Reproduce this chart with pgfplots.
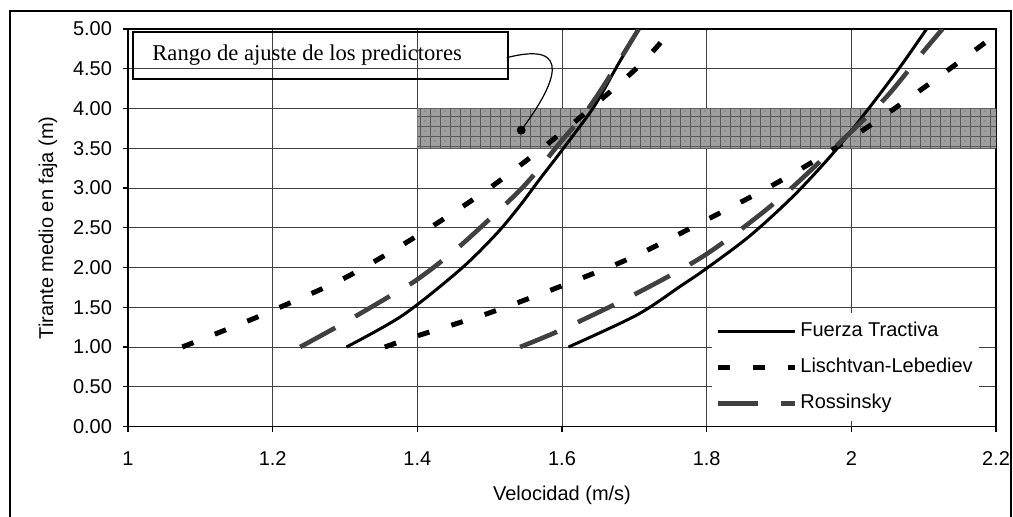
\documentclass[border=0pt]{standalone}
\usepackage{fontspec}
\setmainfont{Liberation Sans}
\newfontfamily\calloutfont{Liberation Serif}
\usepackage{pgfplots}
\pgfplotsset{compat=1.18}
\usetikzlibrary{patterns}

\definecolor{rossgray}{HTML}{404040}

% cell grid seen in the shaded band
\pgfdeclarepatternformonly{cellgrid}{\pgfqpoint{-0.1pt}{-0.1pt}}{\pgfqpoint{5.1pt}{5.1pt}}{\pgfqpoint{5pt}{5pt}}{%
  \pgfsetlinewidth{0.35pt}%
  \pgfpathmoveto{\pgfpointorigin}\pgfpathlineto{\pgfqpoint{5pt}{0pt}}%
  \pgfpathmoveto{\pgfpointorigin}\pgfpathlineto{\pgfqpoint{0pt}{5pt}}%
  \pgfusepath{stroke}%
  \pgfpathcircle{\pgfqpoint{2.5pt}{2.5pt}}{0.35pt}\pgfusepath{fill}}

\newcommand{\lbl}{\fontsize{10}{11}\selectfont}

\begin{document}
\begin{tikzpicture}
\useasboundingbox (0,0) rectangle (506.5pt,258pt);
\begin{axis}[
    at={(64pt,44.75pt)}, anchor=south west,
    scale only axis, width=434pt, height=198.75pt,
    xmin=1, xmax=2.2, ymin=0, ymax=5,
    xtick={1,1.2,1.4,1.6,1.8,2,2.2},
    ytick={0,0.5,1,1.5,2,2.5,3,3.5,4,4.5,5},
    xtick pos=left, ytick pos=left,
    tick align=outside, major tick length=2.5pt,
    tick style={black, line width=0.6pt},
    axis line style={black, line width=0.8pt},
    grid=major,
    major grid style={black!75, line width=0.45pt},
    /pgf/number format/assume math mode=true,
    tick label style={font=\lbl},
    yticklabel style={/pgf/number format/fixed, /pgf/number format/fixed zerofill, /pgf/number format/precision=2, xshift=-2pt},
    xticklabel style={/pgf/number format/fixed, yshift=-6.5pt},
    xlabel={Velocidad (m/s)},
    ylabel={Tirante medio en faja (m)},
    every axis x label/.style={at={(axis description cs:0.5,-0.1723)}, anchor=center, font=\lbl},
    every axis y label/.style={at={(axis description cs:-0.0922,0.5)}, anchor=center, rotate=90, font=\lbl},
    legend style={at={(axis description cs:0.6728,0.2855)}, anchor=north west,
        draw=none, fill=white, font=\lbl, inner xsep=1.75pt, inner ysep=2.75pt,
        row sep=5.5pt,
        nodes={inner sep=1.25pt, text height=7.5pt, text depth=2.5pt}},
    legend cell align=left,
    legend image code/.code={\draw[#1] (0pt,0pt) -- (38.5pt,0pt);},
]
% shaded band: range of fit of the predictors
\addplot[draw=none, fill=black!38, postaction={pattern=cellgrid, pattern color=black!65}, forget plot]
  coordinates {(1.4,3.5) (2.2,3.5) (2.2,4.0) (1.4,4.0) (1.4,3.5)};

% Fuerza Tractiva
\addplot[black, line width=1.5pt, smooth, tension=0.5] coordinates {
  (1.302,1.00) (1.380,1.40) (1.460,1.98) (1.510,2.43) (1.542,2.78) (1.570,3.12)
  (1.602,3.50) (1.644,4.02) (1.676,4.53) (1.706,5.00)};
\addlegendentry{Fuerza Tractiva}
% Lischtvan-Lebediev
\addplot[black, line width=2.5pt, dash pattern=on 6pt off 11.5pt, smooth] coordinates {
  (1.075,1.00) (1.15,1.27) (1.20,1.46) (1.30,1.87) (1.40,2.40)
  (1.50,3.00) (1.60,3.70) (1.70,4.48) (1.745,4.92)};
\addlegendentry{Lischtvan-Lebediev}
% Rossinsky
\addplot[rossgray, line width=2.3pt, dash pattern=on 20pt off 11.5pt, smooth] coordinates {
  (1.238,1.00) (1.30,1.31) (1.362,1.64) (1.40,1.85) (1.45,2.20) (1.50,2.61)
  (1.55,3.05) (1.60,3.60) (1.63,3.92) (1.66,4.32) (1.706,5.00)};
\addlegendentry{Rossinsky}

% second set of curves
\addplot[black, line width=1.5pt, smooth, tension=0.5, forget plot] coordinates {
  (1.609,1.00) (1.703,1.40) (1.763,1.76) (1.800,1.99) (1.860,2.40)
  (1.920,2.90) (1.975,3.44) (2.024,4.00) (2.068,4.53) (2.104,5.00)};
\addplot[black, line width=2.5pt, dash pattern=on 6pt off 11.5pt, smooth, forget plot] coordinates {
  (1.355,1.00) (1.40,1.14) (1.50,1.43) (1.60,1.77) (1.70,2.14)
  (1.80,2.60) (1.90,3.08) (2.00,3.63) (2.10,4.26) (2.20,4.93)};
\addplot[rossgray, line width=2.3pt, dash pattern=on 20pt off 11.5pt, smooth, forget plot] coordinates {
  (1.542,1.00) (1.60,1.22) (1.70,1.66) (1.80,2.17) (1.90,2.86)
  (2.00,3.71) (2.05,4.16) (2.10,4.72) (2.126,5.00)};

% callout dot
\addplot[only marks, mark=*, mark size=2pt, black, forget plot] coordinates {(1.5436,3.728)};
\coordinate (dot) at (axis cs:1.5436,3.728);
\end{axis}
% callout box and leader
\draw[black, line width=0.75pt] (66.5pt,218.5pt) rectangle (254pt,242pt);
\node[anchor=west, inner sep=0pt, font=\calloutfont\fontsize{11.3}{13}\selectfont] at (76pt,230.5pt) {Rango de ajuste de los predictores};
\draw[black, line width=0.6pt] (253.35pt,229.15pt) .. controls (287.5pt,238pt) and (277.5pt,215.5pt) .. (dot);
% outer chart frame
\draw[black, line width=0.75pt] (5pt,-2pt) rectangle (505.5pt,252.5pt);
\end{tikzpicture}
\end{document}
